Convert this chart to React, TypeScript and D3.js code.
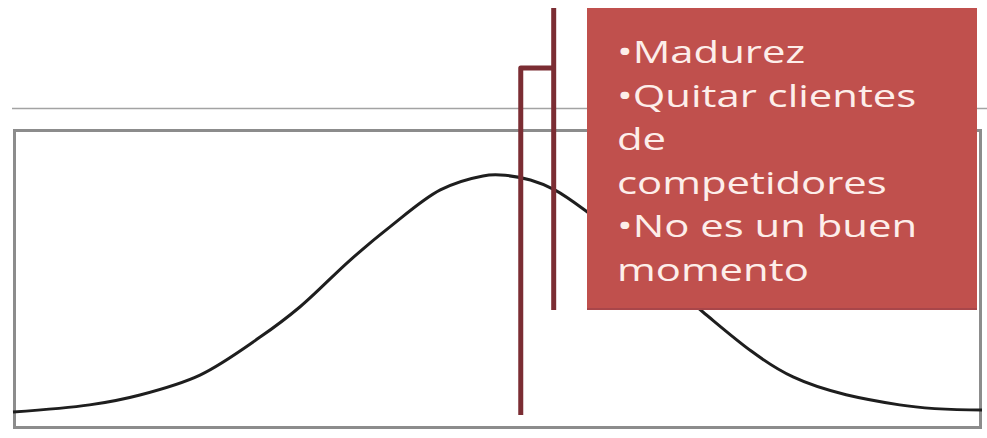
import * as d3 from "d3";
import React, { useEffect, useRef } from "react";

// bell curve (x: 0-100 across the frame, y: 0-100 of peak height)
const curveX = [0, 7.9, 13.1, 19.3, 25.5, 29.6, 34.8, 38.9, 44.1, 48.5, 50.3, 53.4, 55.9, 59.0, 65.7, 71.2, 80.5, 91.5, 100];
const curveY = [0, 3, 7.2, 15.6, 31.6, 44.3, 64.1, 78.1, 93.7, 99.6, 100, 97.9, 93.7, 85.2, 63.3, 42.2, 14.8, 3, 0.8];

// annotation markers on the x axis
const markerX = [52.4, 55.8];

// callout text
const calloutLines = [
    "•Madurez",
    "•Quitar clientes",
    "de",
    "competidores",
    "•No es un buen",
    "momento",
];

const App = () => {
    const svgRef = useRef<SVGSVGElement>(null);

    useEffect(() => {
        const width = 987;
        const height = 438;

        document.body.style.margin = "0";

        const svg = d3.select(svgRef.current);
        svg.selectAll("*").remove();
        svg.attr("width", width).attr("height", height);

        const xScale = d3.scaleLinear().domain([0, 100]).range([13, 982]);
        const yScale = d3.scaleLinear().domain([0, 100]).range([412, 175]);

        // top rule
        svg.append("line")
            .attr("x1", 12).attr("x2", width)
            .attr("y1", 108.5).attr("y2", 108.5)
            .attr("stroke", "#a3a3a3")
            .attr("stroke-width", 1.5);

        // plot frame
        svg.append("rect")
            .attr("x", 14.5).attr("y", 130.5)
            .attr("width", 966).attr("height", 297)
            .attr("fill", "none")
            .attr("stroke", "#8c8c8c")
            .attr("stroke-width", 3);

        const points = curveX.map((x, i) => ({ x, y: curveY[i] }));
        const line = d3.line<{ x: number; y: number }>()
            .x(d => xScale(d.x))
            .y(d => yScale(d.y))
            .curve(d3.curveCatmullRom.alpha(0.5));

        svg.append("path")
            .datum(points)
            .attr("fill", "none")
            .attr("stroke", "#1e1e1e")
            .attr("stroke-width", 3)
            .attr("d", line);

        // connector lines
        const lineColor = "#7b2d33";
        const xa = xScale(markerX[0]);
        const xb = xScale(markerX[1]);

        svg.append("path")
            .attr("d", `M${xa},415 L${xa},68 L${xb},68`)
            .attr("fill", "none")
            .attr("stroke", lineColor)
            .attr("stroke-width", 5)
            .attr("stroke-linejoin", "round");

        svg.append("line")
            .attr("x1", xb).attr("x2", xb)
            .attr("y1", 8).attr("y2", 310)
            .attr("stroke", lineColor)
            .attr("stroke-width", 5);

        // callout box
        svg.append("rect")
            .attr("x", 587).attr("y", 8)
            .attr("width", 390).attr("height", 302)
            .attr("fill", "#c0504d");

        svg.append("line")
            .attr("x1", 587).attr("x2", 977)
            .attr("y1", 309).attr("y2", 309)
            .attr("stroke", "#a8464a")
            .attr("stroke-width", 2);

        const text = svg.append("g");
        calloutLines.forEach((t, i) => {
            text.append("text")
                .attr("transform", `translate(617,${63 + i * 43.6}) scale(1.35,1)`)
                .attr("font-family", "'Open Sans', sans-serif")
                .attr("font-size", 31)
                .attr("fill", "#fdeeea")
                .text(t);
        });
    }, []);

    return (
        <svg ref={svgRef} style={{ position: "absolute", left: 0, top: 0, display: "block" }} />
    );
};

export default App;
